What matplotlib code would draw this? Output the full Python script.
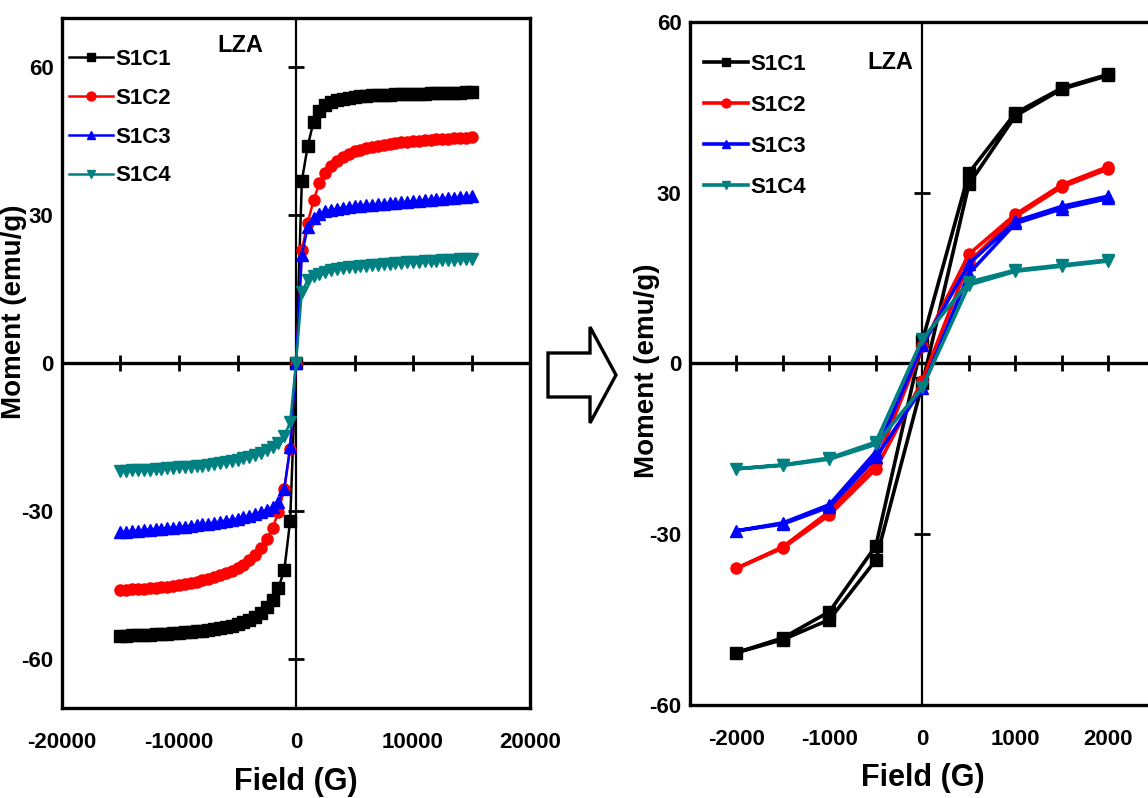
import matplotlib
matplotlib.use("Agg")
import matplotlib.pyplot as plt
from matplotlib.patches import Polygon

plt.rcParams['font.family'] = ['Liberation Sans', 'DejaVu Sans']
plt.rcParams['font.weight'] = 'bold'
plt.rcParams['axes.unicode_minus'] = False

# ---- left panel : full loop, -15000..15000 G (step 500) ----
field_full = [-15000, -14500, -14000, -13500, -13000, -12500, -12000, -11500,
              -11000, -10500, -10000, -9500, -9000, -8500, -8000, -7500,
              -7000, -6500, -6000, -5500, -5000, -4500, -4000, -3500,
              -3000, -2500, -2000, -1500, -1000, -500, 0,
              500, 1000, 1500, 2000, 2500, 3000, 3500, 4000, 4500, 5000,
              5500, 6000, 6500, 7000, 7500, 8000, 8500, 9000, 9500, 10000,
              10500, 11000, 11500, 12000, 12500, 13000, 13500, 14000, 14500, 15000]

s1c1_full = [-55.3, -55.3, -55.2, -55.2, -55.1, -55.1, -55.0, -55.0, -54.9, -54.8,
             -54.7, -54.6, -54.5, -54.4, -54.3, -54.2, -54.0, -53.8, -53.6, -53.3,
             -53.0, -52.6, -52.1, -51.5, -50.7, -49.6, -48.0, -45.6, -42.0, -32.0,
             0.0,
             37.0, 44.0, 49.0, 51.2, 52.3, 52.9, 53.3, 53.6, 53.8, 54.0,
             54.1, 54.2, 54.3, 54.3, 54.4, 54.4, 54.5, 54.5, 54.5, 54.6,
             54.6, 54.6, 54.7, 54.7, 54.7, 54.8, 54.8, 54.8, 54.9, 54.9]
s1c2_full = [-46.0, -46.0, -45.9, -45.9, -45.8, -45.7, -45.6, -45.5, -45.4, -45.2,
             -45.0, -44.8, -44.6, -44.4, -44.1, -43.8, -43.5, -43.1, -42.7, -42.2,
             -41.6, -40.9, -40.0, -38.9, -37.5, -35.8, -33.5, -30.2, -25.5, -17.5,
             0.0,
             23.0, 28.5, 33.0, 36.5, 38.6, 40.0, 41.0, 41.8, 42.4, 43.0,
             43.3, 43.6, 43.9, 44.1, 44.3, 44.5, 44.6, 44.8, 44.9, 45.0,
             45.1, 45.2, 45.3, 45.4, 45.4, 45.5, 45.6, 45.6, 45.7, 45.8]
s1c3_full = [-34.3, -34.2, -34.1, -34.0, -33.9, -33.8, -33.7, -33.6, -33.5, -33.4,
             -33.3, -33.2, -33.0, -32.9, -32.7, -32.6, -32.4, -32.2, -32.0, -31.8,
             -31.6, -31.3, -31.0, -30.7, -30.3, -29.8, -29.2, -28.2, -25.5, -17.0,
             0.0,
             22.0, 27.5, 29.5, 30.3, 30.8, 31.1, 31.3, 31.5, 31.7, 31.8,
             31.9, 32.0, 32.1, 32.2, 32.3, 32.4, 32.5, 32.6, 32.7, 32.8,
             32.9, 33.0, 33.1, 33.2, 33.3, 33.4, 33.5, 33.6, 33.7, 33.8]
s1c4_full = [-21.9, -21.9, -21.8, -21.8, -21.7, -21.7, -21.6, -21.5, -21.4, -21.3,
             -21.2, -21.1, -21.0, -20.9, -20.8, -20.6, -20.5, -20.3, -20.1, -19.9,
             -19.6, -19.3, -19.0, -18.6, -18.2, -17.7, -17.1, -16.2, -14.8, -12.0,
             0.0,
             14.5, 16.8, 17.6, 18.1, 18.5, 18.8, 19.0, 19.2, 19.4, 19.5,
             19.6, 19.7, 19.8, 19.9, 20.0, 20.1, 20.2, 20.3, 20.4, 20.5,
             20.55, 20.6, 20.7, 20.8, 20.85, 20.9, 21.0, 21.1, 21.15, 21.2]

# ---- right panel : low field loop ----
field_loop = [2000, 1500, 1000, 500, 0, -500, -1000, -1500, -2000,
              -1500, -1000, -500, 0, 500, 1000, 1500, 2000]
s1c1_loop = [50.8, 48.4, 44.0, 33.5, 4.0, -32.0, -43.6, -48.2, -50.8,
             -48.5, -45.0, -34.5, -3.5, 31.5, 43.5, 48.2, 50.6]
s1c2_loop = [34.6, 31.4, 26.2, 19.2, 3.0, -17.5, -26.0, -32.2, -36.0,
             -32.4, -26.6, -18.5, -3.0, 17.8, 25.8, 31.0, 34.2]
s1c3_loop = [29.4, 27.6, 25.0, 17.5, 3.2, -15.5, -24.8, -28.0, -29.4,
             -28.2, -25.2, -16.5, -4.3, 15.8, 24.6, 27.2, 29.0]
s1c4_loop = [18.2, 17.3, 16.4, 14.3, 4.3, -13.8, -16.6, -17.8, -18.5,
             -17.9, -16.8, -14.2, -4.2, 13.8, 16.2, 17.1, 18.0]

names = ['S1C1', 'S1C2', 'S1C3', 'S1C4']
colors = ['#000000', '#ff0000', '#0000ff', '#008080']
markers = ['s', 'o', '^', 'v']

fig = plt.figure(figsize=(11.48, 7.98), dpi=100)
ax1 = fig.add_axes([0.054, 0.1128, 0.4077, 0.8646])
ax2 = fig.add_axes([0.601, 0.1165, 0.405, 0.856])


def style_axes(ax, xlim, ylim, xlabels, ylabels, xmarks, ymarks):
    ax.set_xlim(xlim)
    ax.set_ylim(ylim)
    for sp in ax.spines.values():
        sp.set_linewidth(2.4)
    ax.axhline(0, color='k', lw=2.4, zorder=1)
    ax.axvline(0, color='k', lw=1.6, zorder=1)
    # tick marks sit on the zero lines
    ax.plot(xmarks, [0] * len(xmarks), ls='none', marker='|', ms=11,
            mew=2, color='k', zorder=1)
    ax.plot([0] * len(ymarks), ymarks, ls='none', marker='_', ms=11,
            mew=2, color='k', zorder=1)
    ax.set_xticks(xlabels)
    ax.set_yticks(ylabels)
    ax.tick_params(length=0, labelsize=16)
    ax.tick_params(axis='x', pad=17)
    ax.tick_params(axis='y', pad=6)
    ax.set_xlabel('Field (G)', fontsize=22, fontweight='bold')


style_axes(ax1, (-20000, 20000), (-70, 70),
           [-20000, -10000, 0, 10000, 20000], [-60, -30, 0, 30, 60],
           [-15000, -10000, -5000, 5000, 10000, 15000], [-60, -30, 30, 60])
style_axes(ax2, (-2500, 2500), (-60, 60),
           [-2000, -1000, 0, 1000, 2000], [-60, -30, 0, 30, 60],
           [-2000, -1500, -1000, -500, 500, 1000, 1500, 2000], [-30, 30])

ax1.set_ylabel('Moment (emu/g)', fontsize=20, fontweight='bold')
ax2.set_ylabel('Moment (emu/g)', fontsize=20, fontweight='bold')
ax1.yaxis.set_label_coords(-0.075, 0.574)
ax2.yaxis.set_label_coords(-0.065, 0.49)
ax1.xaxis.set_label_coords(0.5, -0.085)
ax2.xaxis.set_label_coords(0.5, -0.085)

full = [s1c1_full, s1c2_full, s1c3_full, s1c4_full]
loop = [s1c1_loop, s1c2_loop, s1c3_loop, s1c4_loop]
for i in range(4):
    ax1.plot(field_full, full[i], color=colors[i], marker=markers[i], ms=8,
             lw=1.8, label=names[i], zorder=3)
    ax2.plot(field_loop, loop[i], color=colors[i], marker=markers[i], ms=8,
             lw=2.6, label=names[i], zorder=3)

ax1.legend(loc='upper left', bbox_to_anchor=(0.015, 0.955), frameon=False,
           fontsize=16, handlelength=2.0, handletextpad=0.1, labelspacing=0.8,
           borderpad=0, borderaxespad=0, markerscale=0.8)
ax2.legend(loc='upper left', bbox_to_anchor=(0.03, 0.953), frameon=False,
           fontsize=16, handlelength=2.0, handletextpad=0.1, labelspacing=0.9,
           borderpad=0, borderaxespad=0, markerscale=0.8)

ax1.text(0.38, 0.96, 'LZA', transform=ax1.transAxes, fontsize=17,
         fontweight='bold', ha='center', va='center')
ax2.text(0.43, 0.94, 'LZA', transform=ax2.transAxes, fontsize=17,
         fontweight='bold', ha='center', va='center')

# hollow arrow between the panels
W, H = 1148, 798
arrow_px = [(548, 353), (590, 353), (590, 327), (616, 375),
            (590, 423), (590, 397), (548, 397)]
arrow = Polygon([(x / W, 1 - y / H) for x, y in arrow_px], closed=True,
                facecolor='white', edgecolor='black', lw=2.4,
                transform=fig.transFigure)
fig.patches.append(arrow)

fig.savefig('out.png', dpi=100)
